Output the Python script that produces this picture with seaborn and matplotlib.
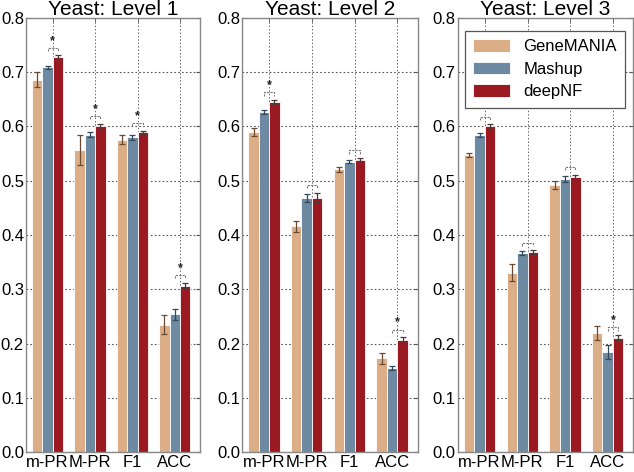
import numpy as np
import pandas as pd
import matplotlib
matplotlib.use("Agg")
import matplotlib.pyplot as plt
import seaborn as sns

# Values
metrics = ["m-PR", "M-PR", "F1", "ACC"]
methods = ["GeneMANIA", "Mashup", "deepNF"]
titles = ["Yeast: Level 1", "Yeast: Level 2", "Yeast: Level 3"]

level1_mean = {"GeneMANIA": [0.686, 0.557, 0.576, 0.235],
               "Mashup": [0.709, 0.585, 0.580, 0.254],
               "deepNF": [0.728, 0.600, 0.589, 0.307]}
level1_err = {"GeneMANIA": [0.014, 0.028, 0.008, 0.018],
              "Mashup": [0.003, 0.004, 0.004, 0.010],
              "deepNF": [0.003, 0.005, 0.003, 0.005]}
level2_mean = {"GeneMANIA": [0.590, 0.416, 0.521, 0.173],
               "Mashup": [0.627, 0.468, 0.535, 0.155],
               "deepNF": [0.645, 0.469, 0.539, 0.207]}
level2_err = {"GeneMANIA": [0.008, 0.010, 0.004, 0.010],
              "Mashup": [0.004, 0.008, 0.003, 0.003],
              "deepNF": [0.004, 0.009, 0.003, 0.005]}
level3_mean = {"GeneMANIA": [0.548, 0.331, 0.492, 0.219],
               "Mashup": [0.584, 0.367, 0.503, 0.185],
               "deepNF": [0.600, 0.369, 0.507, 0.211]}
level3_err = {"GeneMANIA": [0.004, 0.015, 0.008, 0.013],
              "Mashup": [0.004, 0.003, 0.005, 0.013],
              "deepNF": [0.004, 0.003, 0.004, 0.005]}

# significance star (Mashup vs deepNF) per metric
level1_star = [True, True, True, True]
level2_star = [True, False, False, True]
level3_star = [True, False, False, True]

levels = [(level1_mean, level1_err, level1_star),
          (level2_mean, level2_err, level2_star),
          (level3_mean, level3_err, level3_star)]

colors = ["#dcae88", "#6e8aa2", "#9b1a22"]
err_colors = ["#6b4a32", "#34495a", "#4a3a3a"]

sns.set_style("white")
plt.rcParams["font.family"] = ["Liberation Sans", "DejaVu Sans"]
plt.rcParams["text.color"] = "black"
plt.rcParams["xtick.color"] = "black"
plt.rcParams["ytick.color"] = "black"

fig = plt.figure(figsize=(6.34, 4.72), dpi=100)
lefts = [0.041, 0.382, 0.722]
widths = [0.275, 0.277, 0.277]
bar_w = 0.735

for k, (means, errs, stars) in enumerate(levels):
    ax = fig.add_axes([lefts[k], 0.042, widths[k], 0.92])
    rows = []
    for m in methods:
        for i, met in enumerate(metrics):
            rows.append({"metric": met, "method": m, "value": means[m][i], "err": errs[m][i]})
    df = pd.DataFrame(rows)
    sns.barplot(data=df, x="metric", y="value", hue="method", order=metrics,
                hue_order=methods, palette=colors, saturation=1, errorbar=None,
                width=bar_w, gap=0, edgecolor="white", linewidth=0.6, ax=ax, zorder=2)

    # error bars placed on the bars seaborn drew
    centers = {}
    for j, m in enumerate(methods):
        cont = ax.containers[j]
        xs = [p.get_x() + p.get_width() / 2 for p in cont.patches]
        centers[m] = xs
        ax.errorbar(xs, means[m], yerr=errs[m], fmt="none", ecolor=err_colors[j],
                    elinewidth=0.9, capsize=2.5, capthick=0.9, zorder=3)

    # significance brackets
    for i in range(len(metrics)):
        x1 = centers["Mashup"][i]
        x2 = centers["deepNF"][i]
        top = max(means["Mashup"][i] + errs["Mashup"][i], means["deepNF"][i] + errs["deepNF"][i])
        h = top + 0.014
        ax.plot([x1, x1, x2, x2], [h - 0.006, h, h, h - 0.006], color="#777777",
                lw=0.8, ls=(0, (2, 1)), zorder=3)
        if stars[i]:
            ax.text((x1 + x2) / 2, h + 0.002, "*", ha="center", va="bottom",
                    fontsize=9, fontweight="bold", color="#222222")

    ax.set_ylim(0, 0.8)
    ax.set_xlim(-0.51, 3.6)
    ax.set_yticks(np.arange(0, 0.81, 0.1))
    ax.set_yticklabels([f"{v:.1f}" for v in np.arange(0, 0.81, 0.1)])
    ax.set_xticks(range(len(metrics)))
    ax.set_xticklabels(metrics)
    ax.set_xticks([i + bar_w / 6 for i in range(len(metrics))], minor=True)
    ax.set_xlabel("")
    ax.set_ylabel("")
    ax.set_title(titles[k], fontsize=15, pad=2)
    ax.grid(True, axis="y", which="major", ls=(0, (1.5, 2)), color="#555555", lw=0.8, zorder=0)
    ax.grid(True, axis="x", which="minor", ls=(0, (1.5, 2)), color="#666666", lw=0.7, zorder=0)
    ax.set_axisbelow(True)
    ax.tick_params(axis="x", which="major", length=0, labelsize=12, pad=2)
    ax.tick_params(axis="x", which="minor", direction="in", length=3, top=True, color="#555555")
    ax.tick_params(axis="y", labelsize=12, direction="in", length=3, right=True, pad=1.5, color="#555555")
    for sp in ax.spines.values():
        sp.set_color("#888888")
        sp.set_linewidth(1.0)

    if k == 2:
        leg = ax.legend(loc="upper right", fontsize=12, frameon=True, fancybox=False,
                        borderpad=0.5, handlelength=2.2, handleheight=0.8,
                        labelspacing=0.45, bbox_to_anchor=(1.0, 0.99))
        leg.get_frame().set_edgecolor("#555555")
        leg.get_frame().set_linewidth(0.9)
        leg.get_frame().set_alpha(1)
    else:
        ax.legend_.remove()

fig.savefig("out.png", dpi=100)
